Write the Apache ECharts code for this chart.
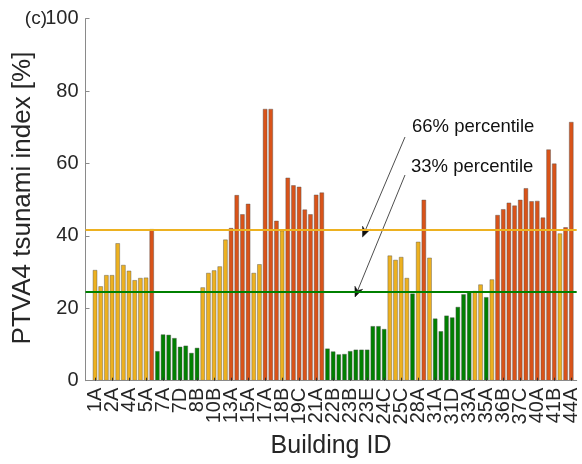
<!DOCTYPE html>
<html>
<head>
<meta charset="utf-8">
<script src="https://cdn.jsdelivr.net/npm/echarts@6/dist/echarts.min.js"></script>
<style>
html,body{margin:0;padding:0;background:#fff;}
#chart{width:582px;height:464px;}
</style>
</head>
<body>
<div id="chart"></div>
<script>
// ---- data ----
const categories = [
  '1A','1B','1C','2A','2B','3A','4A','4B','4C','5A',
  '6A','6B','7A','7B','7C','7D','7E','8A','8B','9A',
  '10A','10B','11A','12A','13A','13B','14A','15A','15B','16A',
  '17A','17B','18A','18B','19A','19B','19C','20A','20B','21A',
  '21B','22A','22B','22C','23A','23B','23C','23D','23E','24A',
  '24B','24C','25A','25B','25C','26A','27A','28A','29A','30A',
  '31A','31B','31C','31D','32A','32B','33A','34A','34B','35A',
  '35B','36A','36B','37A','37B','37C','38A','39A','40A',
  '40B','41A','41B','42A','43A','44A'
];
const ptvaValues = [
  30.6, 26.1, 29.2, 29.2, 38.0, 32.0, 30.4, 27.8, 28.4, 28.5,
  41.9, 8.2, 12.8, 12.7, 11.8, 9.4, 9.7, 7.7, 9.1, 25.8,
  29.8, 30.5, 31.6, 39.0, 42.2, 51.3, 46.0, 48.9, 29.8, 32.2,
  75.1, 75.1, 44.2, 41.5, 56.1, 54.0, 53.6, 47.3, 46.0, 51.4,
  52.0, 8.9, 8.1, 7.3, 7.4, 8.2, 8.6, 8.6, 8.6, 15.1,
  15.1, 14.3, 34.6, 33.4, 34.2, 28.4, 24.1, 38.4, 50.0, 34.0,
  17.2, 13.7, 18.0, 17.5, 20.4, 23.9, 24.6, 24.8, 26.6, 23.1,
  28.0, 45.8, 47.4, 49.2, 48.4, 50.0, 53.2, 49.6, 49.7, 45.1,
  63.9, 60.0, 40.7, 42.4, 71.5
];
const percentile66 = 41.8;
const percentile33 = 24.7;
const yTicks = [0, 20, 40, 60, 80, 100];
const labelStep = 3;
const annotationTexts = ['66% percentile', '33% percentile'];

// ---- chart ----
const labelIdx = [];
for (let i = 0; i < categories.length; i += labelStep) labelIdx.push(i);
// split into two interleaved sets so that the tightly packed labels are all kept
const labelIdxA = labelIdx.filter(function(v, k){ return k % 2 === 0; });
const labelIdxB = labelIdx.filter(function(v, k){ return k % 2 === 1; });

const YELLOW = '#EDB120', ORANGE = '#D95319', GREEN = '#008000';
function colorFor(v){
  if (v > percentile66) return ORANGE;
  if (v < percentile33) return GREEN;
  return YELLOW;
}
const FONT = '"Liberation Sans", Arial, Helvetica, sans-serif';

function arrow(x1, y1, x2, y2){
  const dx = x2 - x1, dy = y2 - y1, L = Math.sqrt(dx*dx + dy*dy);
  const ux = dx / L, uy = dy / L, px = -uy, py = ux;
  const len = 10, hw = 4.2, notch = 7;
  const bx = x2 - ux*len, by = y2 - uy*len;
  const nx = x2 - ux*notch, ny = y2 - uy*notch;
  return [
    {type:'line', silent:true, shape:{x1:x1, y1:y1, x2:nx, y2:ny},
     style:{stroke:'#3a3a3a', lineWidth:0.9}},
    {type:'polygon', silent:true,
     shape:{points:[[x2,y2],[bx+px*hw,by+py*hw],[nx,ny],[bx-px*hw,by-py*hw]]},
     style:{fill:'#111', stroke:'#111', lineWidth:0.5}}
  ];
}

const xMin = -1.68, xMax = 84.96;
function labelAxis(idx){
  return {
    type: 'value', position: 'bottom', min: xMin, max: xMax, z: 5,
    axisLine: {show: false, onZero: false},
    axisTick: {show: false},
    axisLabel: {customValues: idx, rotate: 90, margin: 7, hideOverlap: false,
                showMinLabel: true, showMaxLabel: true,
                fontSize: 20, fontFamily: FONT, color: '#262626',
                formatter: function(v){ return categories[Math.round(v)] || ''; }},
    splitLine: {show: false}
  };
}

const chart = echarts.init(document.getElementById('chart'), null, {renderer:'canvas'});
const option = {
  animation: false,
  backgroundColor: '#fff',
  grid: {left: 85.5, right: 5.3, top: 18.7, bottom: 83.3, containLabel: false, outerBoundsMode: 'none'},
  xAxis: [
    {
      type: 'value', position: 'bottom', min: xMin, max: xMax, z: 5,
      axisLine: {show: true, onZero: false, lineStyle: {color: '#8a8a8a', width: 1}},
      axisTick: {show: true, inside: true, length: 3, customValues: labelIdx,
                 lineStyle: {color: '#333', width: 1}},
      axisLabel: {show: false},
      splitLine: {show: false}
    },
    labelAxis(labelIdxA),
    labelAxis(labelIdxB)
  ],
  yAxis: {
    type: 'value',
    min: yTicks[0],
    max: yTicks[yTicks.length - 1],
    interval: yTicks[1] - yTicks[0],
    axisLine: {show: true, onZero: false, lineStyle: {color: '#8a8a8a', width: 1}},
    axisTick: {show: true, inside: true, length: 4, lineStyle: {color: '#8a8a8a'}},
    axisLabel: {margin: 7, fontSize: 20, fontFamily: FONT, color: '#262626'},
    splitLine: {show: false}
  },
  series: [{
    type: 'bar',
    xAxisIndex: 0,
    barWidth: 4.6,
    data: ptvaValues.map(function(v, i){ return [i, v]; }),
    itemStyle: {
      color: function(p){ return colorFor(p.value[1]); },
      borderColor: 'rgba(80,80,80,0.6)',
      borderWidth: 0.7
    },
    markLine: {
      silent: true,
      symbol: ['none', 'none'],
      label: {show: false},
      z: 4,
      data: [
        {yAxis: percentile66, lineStyle: {color: YELLOW, width: 2.2, type: 'solid'}},
        {yAxis: percentile33, lineStyle: {color: GREEN, width: 2.2, type: 'solid'}}
      ]
    }
  }],
  graphic: [
    {type:'text', silent:true, style:{text:'(c)', x:47, y:19, align:'right', verticalAlign:'middle',
      font:'19px ' + FONT, fill:'#262626'}},
    {type:'text', silent:true, x:23, y:198, rotation: Math.PI/2,
      style:{text:'PTVA4 tsunami index [%]', x:0, y:0, align:'center', verticalAlign:'middle',
      font:'26px ' + FONT, fill:'#262626'}},
    {type:'text', silent:true, style:{text:'Building ID', x:331, y:446, align:'center', verticalAlign:'middle',
      font:'25px ' + FONT, fill:'#262626'}},
    {type:'text', silent:true, style:{text:annotationTexts[0], x:412, y:127, align:'left', verticalAlign:'middle',
      font:'18.5px ' + FONT, fill:'#111'}},
    {type:'text', silent:true, style:{text:annotationTexts[1], x:411, y:167, align:'left', verticalAlign:'middle',
      font:'18.5px ' + FONT, fill:'#111'}}
  ].concat(arrow(405, 137, 362.5, 237)).concat(arrow(405, 175, 355, 297))
};
chart.setOption(option);
</script>
</body>
</html>
